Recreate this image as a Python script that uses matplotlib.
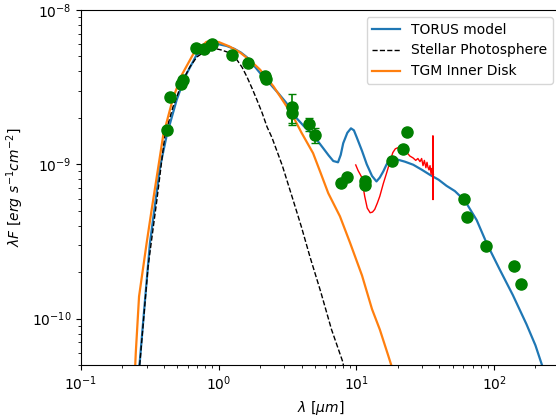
import matplotlib
matplotlib.use('Agg')
import matplotlib.pyplot as plt
import numpy as np

# TORUS model
lam_torus = [0.26, 0.267, 0.292, 0.317, 0.375, 0.42, 0.495, 0.57, 0.69, 0.865, 1.0, 1.14, 1.3,
             1.45, 1.6, 1.79, 2.0, 2.24, 2.7, 3.1, 3.68, 4.2, 4.85, 5.75, 6.3, 6.8, 7.36, 7.7,
             8.03, 8.6, 9.14, 9.6, 10.05, 11.0, 11.9, 13.0, 14.0, 14.8, 15.7, 16.6, 17.5, 18.5,
             20.1, 22.5, 25.9, 30.0, 34.2, 39.6, 45.2, 52.0, 61.5, 74.8, 88.8, 110, 137, 172,
             200, 223, 240]
F_torus = [4.5e-11, 5.2e-11, 1.33e-10, 3.1e-10, 9.6e-10, 1.55e-9, 2.61e-9, 3.7e-9, 5.1e-9,
           5.95e-9, 6.0e-9, 5.85e-9, 5.6e-9, 5.3e-9, 4.95e-9, 4.4e-9, 3.9e-9, 3.5e-9, 2.9e-9,
           2.5e-9, 1.99e-9, 1.75e-9, 1.55e-9, 1.27e-9, 1.14e-9, 1.05e-9, 1.03e-9, 1.15e-9,
           1.37e-9, 1.6e-9, 1.71e-9, 1.66e-9, 1.5e-9, 1.22e-9, 1.0e-9, 8.4e-10, 7.74e-10,
           8.2e-10, 9.0e-10, 1.0e-9, 1.06e-9, 1.08e-9, 1.07e-9, 1.04e-9, 9.93e-10, 9.2e-10,
           8.55e-10, 7.94e-10, 7.25e-10, 6.7e-10, 5.8e-10, 4.35e-10, 3.05e-10, 2.08e-10,
           1.42e-10, 9.2e-11, 6.7e-11, 5.0e-11, 4.0e-11]

# Stellar photosphere
lam_star = [0.265, 0.267, 0.307, 0.356, 0.407, 0.466, 0.551, 0.62, 0.695, 0.822, 0.973, 1.05,
            1.148, 1.25, 1.358, 1.48, 1.606, 1.75, 1.897, 2.07, 2.244, 2.438, 2.9, 3.467, 4.0,
            4.6, 5.5, 6.6, 8.0, 8.3]
F_star = [4.0e-11, 5.0e-11, 2.17e-10, 5.89e-10, 1.55e-9, 2.36e-9, 3.52e-9, 4.3e-9, 4.96e-9,
          5.51e-9, 5.59e-9, 5.5e-9, 5.35e-9, 5.1e-9, 4.75e-9, 4.25e-9, 3.68e-9, 3.1e-9, 2.61e-9,
          2.15e-9, 1.75e-9, 1.49e-9, 9.8e-10, 5.89e-10, 3.9e-10, 2.52e-10, 1.5e-10, 8.5e-11,
          5.19e-11, 4.0e-11]

# TGM inner disk
lam_tgm = [0.245, 0.25, 0.264, 0.30, 0.326, 0.396, 0.467, 0.54, 0.655, 0.815, 1.0, 1.2, 1.43,
           1.7, 2.0, 2.5, 3.0, 3.46, 4.0, 4.85, 5.5, 6.25, 7.6, 9.0, 11.0, 13.0, 14.8, 17.0, 18.6]
F_tgm = [4.0e-11, 6.0e-11, 1.39e-10, 3.1e-10, 5.08e-10, 1.55e-9, 2.7e-9, 3.8e-9, 5.2e-9,
         6.22e-9, 6.2e-9, 5.8e-9, 5.3e-9, 4.7e-9, 4.1e-9, 3.2e-9, 2.5e-9, 2.05e-9, 1.6e-9,
         1.18e-9, 8.8e-10, 6.5e-10, 4.6e-10, 3.1e-10, 1.9e-10, 1.15e-10, 8.5e-11, 5.8e-11,
         4.5e-11]

# IRS spectrum
lam_spec = [9.9, 10.3, 10.9, 11.5, 12.0, 12.6, 13.1, 13.6, 14.2, 14.8, 15.7, 16.6, 17.5, 18.4,
            19.2, 20.0, 21.0, 22.0, 23.3, 24.5, 25.8, 27.0, 28.0, 29.0, 29.8, 30.5, 31.2, 32.0,
            32.6, 33.1, 33.7, 34.3, 34.9, 35.4, 35.8, 36.0, 36.05, 36.1, 36.3]
F_spec = [9.9e-10, 9.1e-10, 8.3e-10, 6.2e-10, 5.2e-10, 4.85e-10, 4.9e-10, 5.1e-10, 5.6e-10,
          6.2e-10, 7.5e-10, 8.8e-10, 1.03e-9, 1.19e-9, 1.26e-9, 1.28e-9, 1.23e-9, 1.21e-9,
          1.19e-9, 1.13e-9, 1.10e-9, 1.06e-9, 1.09e-9, 1.04e-9, 1.09e-9, 9.8e-10, 1.06e-9,
          9.5e-10, 1.03e-9, 9.6e-10, 9.2e-10, 9.8e-10, 8.6e-10, 9.4e-10, 8.9e-10, 1.53e-9,
          5.9e-10, 9.0e-10, 8.6e-10]

# photometry
lam_obs = [0.42, 0.44, 0.53, 0.55, 0.69, 0.78, 0.88, 0.90, 1.24, 1.64, 2.17, 2.19, 3.4, 3.4,
           4.55, 5.0, 7.7, 8.5, 11.5, 11.6, 18.2, 21.7, 23.4, 60.8, 64, 88, 139, 158]
F_obs = [1.67e-9, 2.73e-9, 3.3e-9, 3.5e-9, 5.7e-9, 5.6e-9, 5.9e-9, 6.0e-9, 5.1e-9, 4.56e-9,
         3.75e-9, 3.55e-9, 2.35e-9, 2.15e-9, 1.82e-9, 1.55e-9, 7.55e-10, 8.26e-10, 7.8e-10,
         7.3e-10, 1.05e-9, 1.26e-9, 1.61e-9, 5.96e-10, 4.57e-10, 2.94e-10, 2.2e-10, 1.67e-10]
E_obs = [0, 0, 0.2e-9, 0, 0, 0, 0, 0, 0, 0, 0, 0, 0.5e-9, 0.35e-9,
         0.18e-9, 0.17e-9, 0, 0, 0, 0, 0, 0, 0, 0, 0, 0, 0, 0]

fig = plt.figure(figsize=(5.56, 4.19), dpi=100)
ax = fig.add_axes([81 / 556, 1 - 365 / 419, (559.7 - 81) / 556, 355 / 419])

ax.plot(lam_torus, F_torus, color='#1f77b4', lw=1.6, label='TORUS model')
ax.plot(lam_star, F_star, 'k--', lw=1.0, label='Stellar Photosphere')
ax.plot(lam_tgm, F_tgm, color='#ff7f0e', lw=1.6, label='TGM Inner Disk')
ax.plot(lam_spec, F_spec, color='red', lw=1.0)
ax.errorbar(lam_obs, F_obs, yerr=E_obs, fmt='o', color='green', ms=8, capsize=3, elinewidth=1.2)

ax.set_xscale('log')
ax.set_yscale('log')
ax.set_xlim(0.1, 300)
ax.set_ylim(5e-11, 1e-8)
ax.set_xlabel(r'$\lambda\ [\mu m]$')
ax.set_ylabel(r'$\lambda F\ [erg\ s^{-1}cm^{-2}]$')
ax.legend(loc='upper right')

fig.savefig('out.png', dpi=100)
